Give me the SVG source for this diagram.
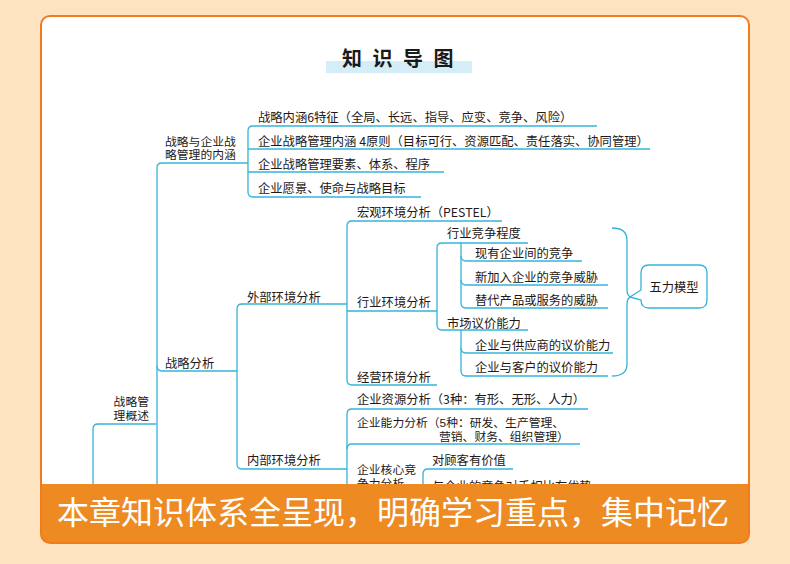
<svg xmlns="http://www.w3.org/2000/svg" width="790" height="564" viewBox="0 0 790 564">
<defs>
<style>
.t{font-family:"Noto Sans CJK SC","Noto Sans",sans-serif;font-size:12.3px;fill:#231815;}
.t2{font-family:"Liberation Sans","Noto Sans CJK SC",sans-serif;font-size:11.8px;fill:#231815;}
.ln{fill:none;stroke:#33B5D9;stroke-width:1.3;}
</style>
<clipPath id="cardclip"><rect x="41" y="16" width="708" height="468"/></clipPath>
</defs>
<rect x="0" y="0" width="790" height="564" fill="#FDE3BF"/>
<rect x="41" y="16" width="708" height="527" rx="9" fill="#FFFFFF"/>
<g id="title">
<rect x="326" y="61" width="146" height="12" fill="#D4EDF7"/>
<text x="342" y="66" font-family="'Noto Sans CJK SC',sans-serif" font-size="20" font-weight="700" letter-spacing="10.5" fill="#1a1a1a">知识导图</text>
</g>
<g clip-path="url(#cardclip)">
<g id="connectors" class="ln">
<path d="M156 424 H98 Q93 424 93 429 V490"/>
<path d="M248 163 H162 Q157 163 157 168 V490"/>
<path d="M157 366 Q157 371 162 371 H237"/>
<path d="M597 126 H253 Q248 126 248 131 V192 Q248 197 253 197 H421"/>
<path d="M248 149 H650"/>
<path d="M248 172 H444"/>
<path d="M347 304 H242 Q237 304 237 309 V464 Q237 469 242 469 H347"/>
<path d="M502 221 H352 Q347 221 347 226 V380 Q347 385 352 385 H437"/>
<path d="M347 311 H437"/>
<path d="M528 243 H442 Q437 243 437 248 V325 Q437 330 442 330 H528"/>
<path d="M461 243 V303 Q461 308 466 308 H608"/>
<path d="M461 256 Q461 261 466 261 H582"/>
<path d="M461 280 Q461 285 466 285 H608"/>
<path d="M461 330 V371 Q461 376 466 376 H608"/>
<path d="M461 348 Q461 353 466 353 H613"/>
<path d="M588 409 H352 Q347 409 347 414 V490"/>
<path d="M347 449 Q347 444 352 444 H580"/>
<path d="M513 469 H428 Q423 469 423 474 V490"/>
<path d="M612 228 Q627 228 627 240 V290 Q627 296 631 297 Q627 298 627 304 V364 Q627 376 612 376"/>
</g>
<g id="n-root"><text class="t2" text-anchor="end"><tspan x="149" y="406">战略管</tspan><tspan x="149" y="419.5">理概述</tspan></text></g>
<g id="n-neihan"><text class="t2"><tspan x="165" y="145.5">战略与企业战</tspan><tspan x="165" y="159">略管理的内涵</tspan></text></g>
<g id="n-i1"><text class="t" x="258" y="121.5">战略内涵6特征（全局、长远、指导、应变、竞争、风险）</text></g>
<g id="n-i2"><text class="t" x="258" y="146">企业战略管理内涵 4原则（目标可行、资源匹配、责任落实、协同管理）</text></g>
<g id="n-i3"><text class="t" x="258" y="168.5">企业战略管理要素、体系、程序</text></g>
<g id="n-i4"><text class="t" x="258" y="192.5">企业愿景、使命与战略目标</text></g>
<g id="n-fenxi"><text class="t" x="165" y="367.5">战略分析</text></g>
<g id="n-waibu"><text class="t" x="247" y="301.5">外部环境分析</text></g>
<g id="n-neibu"><text class="t" x="247" y="464.5">内部环境分析</text></g>
<g id="n-hongguan"><text class="t" x="357" y="216.5">宏观环境分析（PESTEL）</text></g>
<g id="n-hangye"><text class="t" x="357" y="306.5">行业环境分析</text></g>
<g id="n-jingying"><text class="t" x="357" y="381.5">经营环境分析</text></g>
<g id="n-jzcd"><text class="t" x="447" y="237.5">行业竞争程度</text></g>
<g id="n-xy"><text class="t" x="475" y="257.5">现有企业间的竞争</text></g>
<g id="n-xjr"><text class="t" x="475" y="281.5">新加入企业的竞争威胁</text></g>
<g id="n-td"><text class="t" x="475" y="304.5">替代产品或服务的威胁</text></g>
<g id="n-yjnl"><text class="t" x="447" y="327.5">市场议价能力</text></g>
<g id="n-gys"><text class="t" x="475" y="349.5">企业与供应商的议价能力</text></g>
<g id="n-kh"><text class="t" x="475" y="371.5">企业与客户的议价能力</text></g>
<g id="n-wuli">
<path d="M649 265 H699 Q707 265 707 273 V300 Q707 308 699 308 H649 Q641 308 641 300 L630 297 L641 290 V273 Q641 265 649 265 Z" fill="#FFFFFF" stroke="#33B5D9" stroke-width="1.3"/>
<text class="t" x="674" y="291.5" text-anchor="middle">五力模型</text>
</g>
<g id="n-ziyuan"><text class="t" x="357" y="403.5">企业资源分析（3种：有形、无形、人力）</text></g>
<g id="n-nengli"><text class="t2"><tspan x="357" y="427">企业能力分析（5种：研发、生产管理、</tspan><tspan x="439" y="440.5">营销、财务、组织管理）</tspan></text></g>
<g id="n-hexin"><text class="t2"><tspan x="357" y="474">企业核心竞</tspan><tspan x="357" y="487.5">争力分析</tspan></text></g>
<g id="n-gk"><text class="t" x="432" y="464.5">对顾客有价值</text></g>
<g id="n-ys"><text class="t" x="432" y="490.5">与企业的竞争对手相比有优势</text></g>
</g>
<g id="banner">
<path d="M41 484 H749 V534 Q749 543 740 543 H50 Q41 543 41 534 Z" fill="#EE8A22"/>
<text x="57" y="524" font-family="'Noto Sans CJK SC',sans-serif" font-size="32" fill="#FFFFFF">本章知识体系全呈现，明确学习重点，集中记忆</text>
</g>
<rect x="41" y="16" width="708" height="527" rx="9" fill="none" stroke="#F47A20" stroke-width="2"/>
</svg>
